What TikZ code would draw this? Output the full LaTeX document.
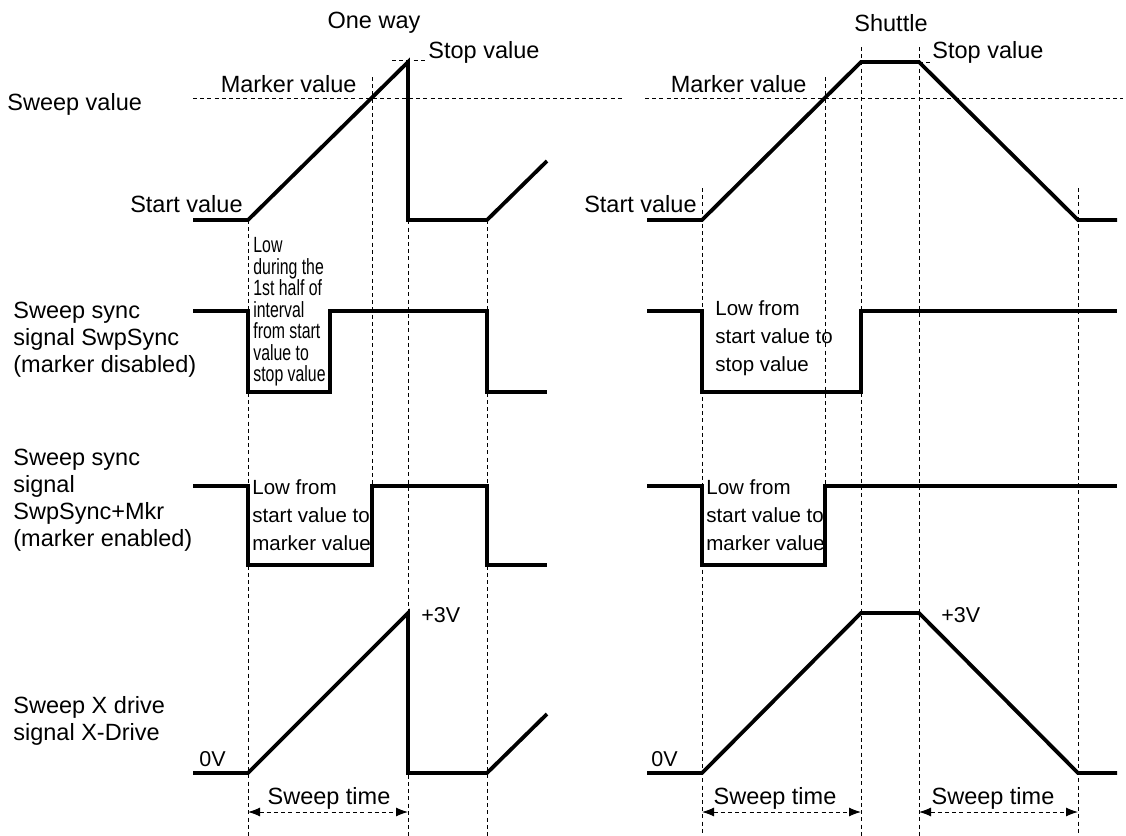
\documentclass[tikz,border=0pt]{standalone}
\usepackage{fontspec}
\setmainfont{Liberation Sans}
\newfontfamily\narrowfont[FakeStretch=0.72]{Liberation Sans}
\usetikzlibrary{arrows.meta}

\begin{document}
\begin{tikzpicture}[x=0.5pt, y=-0.5pt, font=\fontsize{11.75}{13.5}\selectfont,
	wave/.style={line width=1.9pt, line join=miter},
	guide/.style={line width=0.5pt, dash pattern=on 2pt off 1.6pt},
	lbl/.style={inner sep=0pt},
	lowtxt/.style={inner sep=0pt, align=left, font=\fontsize{10.25}{14}\selectfont},
	volt/.style={inner sep=0pt, anchor=west, font=\fontsize{10.75}{12}\selectfont},
	spanarrow/.style={guide, {Latex[length=6pt,width=4.5pt]}-{Latex[length=6pt,width=4.5pt]}}]
	
	\useasboundingbox (0,0) rectangle (1126,836);
	
	% columna izquierda (one way)
	\def\xBeg{193}
	\def\xA{248}
	\def\xM{372}
	\def\xS{408}
	\def\xE{487}
	\def\xEnd{547}
	% columna derecha (shuttle)
	\def\xbeg{647}
	\def\xa{702}
	\def\xm{825}
	\def\xp{861}
	\def\xq{919}
	\def\xe{1078}
	\def\xend{1117}
	
	% filas
	\def\yTop{62}
	\def\yMk{98}
	\def\yStart{220}
	\def\yHiB{311}
	\def\yLoB{392}
	\def\yHiC{486}
	\def\yLoC{565}
	\def\yPk{613}
	\def\yGnd{773}
	\def\ySpan{812}
	
	% ── Líneas guía verticales ──────────────────────────────────────────
	\foreach \xx/\ya/\yb in {\xA/\yStart/836, \xM/77/\yLoC, \xS/\yTop/836, \xE/\yStart/836,
		\xa/188/836, \xm/77/\yLoC, \xp/47/836, \xq/47/836, \xe/188/836}{
		\draw[guide] (\xx,\ya) -- (\xx,\yb);
	}
	
	% ── Valor de barrido ────────────────────────────────────────────────
	\draw[guide] (193,\yMk) -- (622,\yMk);
	\draw[guide] (645,\yMk) -- (1123,\yMk);
	\draw[guide] (392,60) -- (425,60);
	\draw[guide] (\xq,\yTop) -- (932,\yTop);
	
	\draw[wave] (\xBeg,\yStart) -- (\xA,\yStart) -- (\xS,\yTop) -- (\xS,\yStart)
	-- (\xE,\yStart) -- (\xEnd,161);
	\draw[wave] (\xbeg,\yStart) -- (\xa,\yStart) -- (\xp,\yTop) -- (\xq,\yTop)
	-- (\xe,\yStart) -- (\xend,\yStart);
	
	\node[lbl] (oneway) at (374,23) {One way};
	\node[lbl] (shuttle) at (891,23) {Shuttle};
	\node[lbl, anchor=west] (stopL) at (428,52) {Stop value};
	\node[lbl, anchor=west] (stopR) at (932,52) {Stop value};
	\node[lbl, anchor=east] (markL) at (357,84) {Marker value};
	\node[lbl, anchor=east] (markR) at (807,84) {Marker value};
	\node[lbl, anchor=west] (sweepval) at (7,104) {Sweep value};
	\node[lbl, anchor=east] (startL) at (243,204) {Start value};
	\node[lbl, anchor=east] (startR) at (697,204) {Start value};
	
	% ── SwpSync (marker disabled) ───────────────────────────────────────
	\draw[wave] (\xBeg,\yHiB) -- (\xA,\yHiB) -- (\xA,\yLoB) -- (330,\yLoB) -- (330,\yHiB)
	-- (\xE,\yHiB) -- (\xE,\yLoB) -- (\xEnd,\yLoB);
	\draw[wave] (\xbeg,\yHiB) -- (\xa,\yHiB) -- (\xa,\yLoB) -- (\xp,\yLoB) -- (\xp,\yHiB)
	-- (\xend,\yHiB);
	
	\node[lbl, anchor=west, align=left] (syncB) at (13,340)
	{Sweep sync\\signal SwpSync\\(marker disabled)};
	\node[inner sep=0pt, anchor=west, align=left,
	font=\narrowfont\fontsize{11}{10.75}\selectfont] (lowB) at (253,312)
	{Low\\during the\\1st half of\\interval\\from start\\value to\\stop value};
	\node[lowtxt, anchor=west] (lowBR) at (715,338)
	{Low from\\start value to\\stop value};
	
	% ── SwpSync+Mkr (marker enabled) ────────────────────────────────────
	\draw[wave] (\xBeg,\yHiC) -- (\xA,\yHiC) -- (\xA,\yLoC) -- (\xM,\yLoC) -- (\xM,\yHiC)
	-- (\xE,\yHiC) -- (\xE,\yLoC) -- (\xEnd,\yLoC);
	\draw[wave] (\xbeg,\yHiC) -- (\xa,\yHiC) -- (\xa,\yLoC) -- (\xm,\yLoC) -- (\xm,\yHiC)
	-- (\xend,\yHiC);
	
	\node[lbl, anchor=west, align=left] (syncC) at (13,500)
	{Sweep sync\\signal\\SwpSync+Mkr\\(marker enabled)};
	\node[lowtxt, anchor=west] (lowC) at (252,515)
	{Low from\\start value to\\marker value};
	\node[lowtxt, anchor=west] (lowCR) at (706,515)
	{Low from\\start value to\\marker value};
	
	% ── X-Drive ─────────────────────────────────────────────────────────
	\draw[wave] (\xBeg,\yGnd) -- (\xA,\yGnd) -- (\xS,\yPk) -- (\xS,\yGnd)
	-- (\xE,\yGnd) -- (\xEnd,714);
	\draw[wave] (\xbeg,\yGnd) -- (\xa,\yGnd) -- (\xp,\yPk) -- (\xq,\yPk)
	-- (\xe,\yGnd) -- (\xend,\yGnd);
	
	\node[lbl, anchor=west, align=left] (xdrive) at (13,721)
	{Sweep X drive\\signal X-Drive};
	\node[volt] (maxL) at (421,615) {+3V};
	\node[volt] (maxR) at (941,615) {+3V};
	\node[volt] (zeroL) at (199,759) {0V};
	\node[volt] (zeroR) at (651,759) {0V};
	
	% Tiempo de barrido
	\coordinate (spanA) at (\xA,\ySpan);
	\coordinate (spanB) at (\xS,\ySpan);
	\coordinate (spanC) at (\xa,\ySpan);
	\coordinate (spanD) at (\xp,\ySpan);
	\coordinate (spanE) at (\xq,\ySpan);
	\coordinate (spanF) at (\xe,\ySpan);
	\draw[spanarrow] (spanA) -- (spanB);
	\draw[spanarrow] (spanC) -- (spanD);
	\draw[spanarrow] (spanE) -- (spanF);
	\node[lbl] (timeL) at (329,798) {Sweep time};
	\node[lbl] (timeC) at (775,798) {Sweep time};
	\node[lbl] (timeR) at (993,798) {Sweep time};
	
\end{tikzpicture}
\end{document}
